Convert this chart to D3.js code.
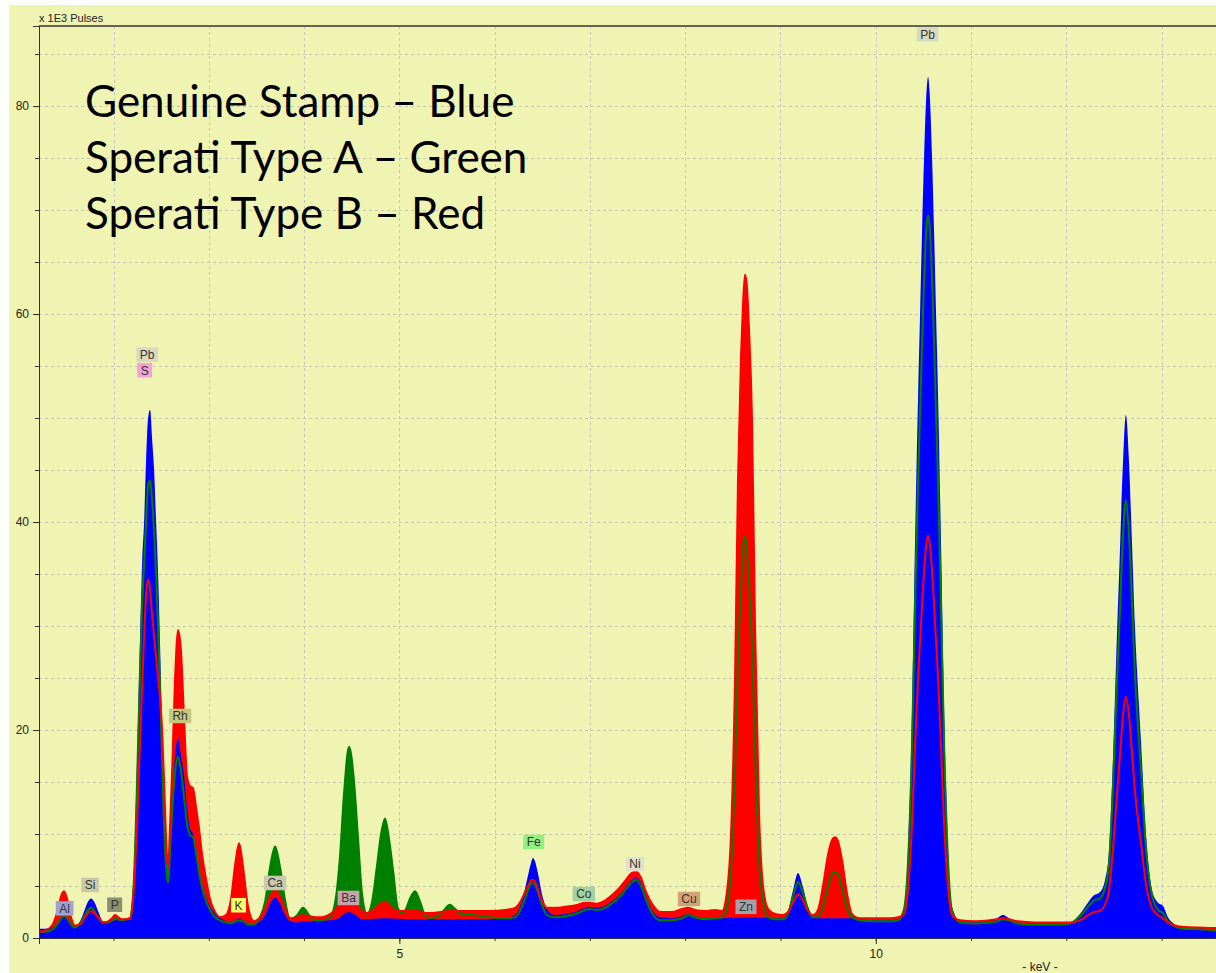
<!DOCTYPE html>
<html>
<head>
<meta charset="utf-8">
<script src="https://cdn.jsdelivr.net/npm/d3@7"></script>
<style>
  html, body { margin: 0; padding: 0; background: #fff; }
  svg { display: block; }
</style>
</head>
<body>
<svg id="chart" width="1216" height="973"></svg>
<script>
// spectra, [keV, counts x 1000]
const genuine = [[1.218,0.9],[1.281,0.9],[1.355,1.0],[1.418,1.4],[1.449,1.8],[1.481,2.0],[1.512,1.8],[1.554,1.3],[1.596,1.1],[1.649,1.6],[1.701,2.8],[1.733,3.5],[1.764,3.8],[1.796,3.5],[1.838,2.6],[1.890,1.6],[1.943,1.5],[1.985,1.6],[2.016,1.7],[2.090,1.7],[2.131,1.8],[2.174,1.9],[2.195,3.5],[2.216,7],[2.247,17],[2.279,29],[2.300,36],[2.321,40],[2.342,46],[2.363,50],[2.384,50.8],[2.405,48],[2.426,45],[2.447,40],[2.468,35],[2.489,28],[2.510,20],[2.531,12],[2.552,7.5],[2.573,5.3],[2.594,9],[2.615,13],[2.646,17.5],[2.678,19.2],[2.709,17.5],[2.741,15.5],[2.772,12.5],[2.804,10.5],[2.835,10],[2.867,8.5],[2.898,6.5],[2.930,5.0],[2.961,4.2],[3.014,3.0],[3.066,2.4],[3.118,2.0],[3.181,1.6],[3.234,1.5],[3.276,1.7],[3.318,1.9],[3.360,1.7],[3.412,1.4],[3.475,1.3],[3.538,1.6],[3.591,2.2],[3.643,3.3],[3.696,3.9],[3.748,3.3],[3.801,2.2],[3.853,1.6],[3.927,1.5],[3.990,1.6],[4.116,1.6],[4.273,1.7],[4.336,1.8],[4.378,2.0],[4.420,2.3],[4.472,2.5],[4.525,2.3],[4.567,2.0],[4.609,1.8],[4.850,1.9],[5.164,1.8],[5.951,1.8],[6.109,1.9],[6.214,2.2],[6.266,3.0],[6.308,4.3],[6.350,6.0],[6.381,7.2],[6.402,7.7],[6.423,7.4],[6.455,6.2],[6.497,4.2],[6.549,2.8],[6.633,2.2],[6.738,2.3],[6.875,2.6],[6.948,2.9],[7.001,3.0],[7.064,2.9],[7.158,3.1],[7.242,3.6],[7.316,4.2],[7.379,4.9],[7.431,5.5],[7.484,5.8],[7.536,5.3],[7.589,4.0],[7.652,2.7],[7.736,2.0],[7.862,1.9],[7.967,2.1],[8.030,2.3],[8.103,2.1],[8.208,1.9],[8.313,1.9],[8.628,2.0],[8.943,1.9],[9.027,1.9],[9.079,2.6],[9.132,4.6],[9.184,6.25],[9.236,4.9],[9.289,3.0],[9.341,2.1],[9.394,1.9],[9.751,1.9],[9.835,1.8],[9.993,1.7],[10.150,1.7],[10.234,1.8],[10.297,3.0],[10.339,8.5],[10.381,22],[10.412,38],[10.444,52],[10.465,60],[10.486,68],[10.507,75],[10.528,80.5],[10.549,82.8],[10.570,80.5],[10.591,75],[10.612,68],[10.633,60],[10.654,52],[10.685,38],[10.717,22],[10.759,8.5],[10.801,3.0],[10.884,1.6],[11.042,1.5],[11.199,1.6],[11.273,1.9],[11.335,2.2],[11.398,1.9],[11.493,1.5],[11.671,1.4],[11.881,1.4],[12.038,1.5],[12.143,2.3],[12.227,3.4],[12.290,4.1],[12.353,4.4],[12.405,5.5],[12.447,8.3],[12.489,17],[12.531,29],[12.562,37],[12.594,45.5],[12.625,50.3],[12.657,46],[12.689,38],[12.720,30],[12.752,24],[12.783,19],[12.836,10],[12.899,4.6],[12.962,3.4],[13.014,3.1],[13.067,2.0],[13.140,1.3],[13.245,1.0],[13.403,0.95],[13.571,0.8]];

const speratiA = [[1.218,0.6],[1.281,0.6],[1.355,0.8],[1.418,1.4],[1.449,1.9],[1.481,2.2],[1.512,1.9],[1.554,1.3],[1.596,1.0],[1.649,1.4],[1.701,2.2],[1.733,2.7],[1.764,2.9],[1.796,2.6],[1.838,2.0],[1.890,1.5],[1.943,1.5],[1.985,1.7],[2.016,1.9],[2.048,1.8],[2.090,1.7],[2.131,1.8],[2.174,1.9],[2.195,3.0],[2.216,6],[2.247,15],[2.279,26],[2.300,32],[2.321,36],[2.342,40],[2.363,43.5],[2.384,44],[2.405,42],[2.426,39],[2.447,35],[2.468,30],[2.489,24],[2.510,17],[2.531,10.5],[2.552,6.8],[2.573,5.3],[2.594,8.5],[2.615,12],[2.646,16],[2.678,17.4],[2.709,16],[2.741,13.5],[2.772,11],[2.804,9.9],[2.835,9.7],[2.867,8.2],[2.898,6.3],[2.930,4.8],[2.961,3.8],[3.014,2.7],[3.066,2.0],[3.118,1.7],[3.181,1.5],[3.234,1.4],[3.276,1.6],[3.318,1.7],[3.360,1.6],[3.412,1.3],[3.475,1.3],[3.538,2.0],[3.591,3.5],[3.643,6.8],[3.696,8.8],[3.748,6.8],[3.801,3.6],[3.853,1.8],[3.927,2.2],[3.990,2.9],[4.053,2.2],[4.116,1.7],[4.189,1.7],[4.273,2.0],[4.336,4],[4.378,8],[4.420,14],[4.472,18.4],[4.525,15],[4.567,9.5],[4.609,4.2],[4.661,2.3],[4.714,3.5],[4.766,7],[4.808,10],[4.850,11.5],[4.892,9.5],[4.934,6.5],[4.986,2.8],[5.028,2.4],[5.070,2.8],[5.112,3.8],[5.164,4.5],[5.217,3.5],[5.269,2.2],[5.332,1.9],[5.427,2.2],[5.479,2.8],[5.532,3.2],[5.584,2.8],[5.658,2.3],[5.794,2.2],[5.951,2.0],[6.109,1.9],[6.214,2.0],[6.266,2.6],[6.308,3.5],[6.350,4.6],[6.381,5.2],[6.402,5.3],[6.423,5.1],[6.455,4.4],[6.497,3.2],[6.549,2.2],[6.633,2.0],[6.738,2.1],[6.875,2.4],[6.948,2.7],[7.001,2.8],[7.064,2.7],[7.158,2.9],[7.242,3.4],[7.316,4.0],[7.379,4.7],[7.431,5.3],[7.484,5.6],[7.536,5.0],[7.589,3.7],[7.652,2.4],[7.736,1.7],[7.862,1.7],[7.967,1.9],[8.030,2.2],[8.103,2.0],[8.208,1.8],[8.313,1.9],[8.387,2.0],[8.439,3.0],[8.481,6.5],[8.523,16],[8.554,27],[8.586,33.5],[8.607,37.5],[8.628,38.6],[8.649,37],[8.670,34],[8.701,28],[8.733,18],[8.775,7.5],[8.817,3.5],[8.869,2.0],[8.943,1.8],[9.027,1.8],[9.079,2.3],[9.132,4.0],[9.184,5.4],[9.236,4.3],[9.289,2.8],[9.341,2.0],[9.394,2.0],[9.446,3.0],[9.499,5.0],[9.541,6.1],[9.572,6.4],[9.604,6.1],[9.646,4.8],[9.698,2.9],[9.751,2.0],[9.835,1.7],[9.993,1.6],[10.150,1.6],[10.234,1.7],[10.297,2.8],[10.339,7.4],[10.381,18.8],[10.412,32],[10.444,43.8],[10.465,50.5],[10.486,57.2],[10.507,63.2],[10.528,67.8],[10.549,69.5],[10.570,67.8],[10.591,63.2],[10.612,57.2],[10.633,50.5],[10.654,43.8],[10.685,32],[10.717,18.8],[10.759,7.4],[10.801,2.6],[10.884,1.5],[11.042,1.4],[11.199,1.5],[11.273,1.6],[11.335,1.8],[11.398,1.7],[11.493,1.4],[11.671,1.3],[11.881,1.3],[12.038,1.4],[12.143,2.1],[12.227,3.0],[12.290,3.6],[12.353,3.8],[12.405,4.8],[12.447,7],[12.489,14.5],[12.531,24.6],[12.562,31.3],[12.594,38.5],[12.625,42.1],[12.657,38.9],[12.689,32.2],[12.720,25.4],[12.752,20.4],[12.783,16.2],[12.836,8.6],[12.899,4.1],[12.962,2.7],[13.014,2.4],[13.067,1.6],[13.140,1.1],[13.245,0.9],[13.403,0.85],[13.571,0.75]];

const speratiB = [[1.218,0.6],[1.281,0.7],[1.355,1.2],[1.418,2.8],[1.449,4.0],[1.481,4.5],[1.512,3.8],[1.554,2.0],[1.596,1.2],[1.649,1.3],[1.701,2.0],[1.733,2.4],[1.764,2.6],[1.796,2.4],[1.838,2.0],[1.890,1.5],[1.943,1.6],[1.985,1.9],[2.016,2.2],[2.048,2.0],[2.090,1.8],[2.131,1.8],[2.174,1.9],[2.195,2.8],[2.216,5],[2.247,11],[2.279,19],[2.300,24],[2.321,29],[2.342,33],[2.363,34.5],[2.384,33.5],[2.405,31],[2.426,29],[2.447,27],[2.468,25],[2.489,23],[2.510,20],[2.531,15],[2.552,9.5],[2.573,6.8],[2.594,11],[2.615,16],[2.646,25],[2.678,29.6],[2.709,27.5],[2.741,21],[2.772,15.5],[2.804,14.6],[2.835,14.4],[2.867,12.5],[2.898,10.5],[2.930,8],[2.961,6.2],[3.014,3.7],[3.066,2.5],[3.118,2.0],[3.181,2.2],[3.234,3.8],[3.276,7],[3.318,9.1],[3.360,6.8],[3.412,3.0],[3.475,1.6],[3.538,2.0],[3.591,2.8],[3.643,4.0],[3.696,4.6],[3.748,4.0],[3.801,2.8],[3.853,1.9],[3.927,2.0],[3.990,2.2],[4.053,2.1],[4.116,2.0],[4.189,2.0],[4.273,2.3],[4.336,2.8],[4.378,3.4],[4.420,3.9],[4.472,4.2],[4.525,3.8],[4.567,3.0],[4.609,2.6],[4.661,2.4],[4.714,2.6],[4.766,3.0],[4.808,3.3],[4.850,3.5],[4.892,3.2],[4.934,2.8],[4.986,2.6],[5.070,2.6],[5.164,2.7],[5.269,2.4],[5.332,2.4],[5.532,2.6],[5.794,2.6],[5.951,2.6],[6.109,2.7],[6.214,2.9],[6.266,3.4],[6.308,4.2],[6.350,5.0],[6.381,5.5],[6.402,5.6],[6.423,5.4],[6.455,4.7],[6.497,3.6],[6.549,2.9],[6.633,2.9],[6.738,3.0],[6.875,3.2],[6.948,3.4],[7.001,3.4],[7.064,3.3],[7.158,3.6],[7.242,4.2],[7.316,4.9],[7.379,5.6],[7.431,6.2],[7.484,6.4],[7.536,5.8],[7.589,4.4],[7.652,3.3],[7.736,2.5],[7.862,2.5],[7.967,2.8],[8.030,2.9],[8.103,2.7],[8.208,2.6],[8.313,2.7],[8.387,2.6],[8.439,4.5],[8.481,10],[8.523,25],[8.554,44],[8.586,56],[8.607,61],[8.628,63.8],[8.649,62.5],[8.670,58.5],[8.701,50],[8.733,30],[8.775,12],[8.817,5],[8.869,2.8],[8.943,2.3],[9.027,2.2],[9.079,2.5],[9.132,3.4],[9.184,4.2],[9.236,3.6],[9.289,2.6],[9.341,2.2],[9.394,2.7],[9.446,5.0],[9.499,8.0],[9.541,9.4],[9.572,9.7],[9.604,9.3],[9.646,7.5],[9.698,4.3],[9.751,2.3],[9.835,1.9],[9.993,1.9],[10.150,1.9],[10.234,2.0],[10.297,2.3],[10.339,4.8],[10.381,11],[10.412,18.5],[10.444,25],[10.465,28.5],[10.486,32],[10.507,35.3],[10.528,37.7],[10.549,38.7],[10.570,37.7],[10.591,35.3],[10.612,32],[10.633,28.5],[10.654,25],[10.685,18.5],[10.717,11],[10.759,4.8],[10.801,2.2],[10.884,1.7],[11.042,1.6],[11.199,1.7],[11.273,1.8],[11.335,1.9],[11.398,1.8],[11.493,1.6],[11.671,1.5],[11.881,1.5],[12.038,1.5],[12.143,1.7],[12.227,2.2],[12.290,2.5],[12.353,2.6],[12.405,3.2],[12.447,4.5],[12.489,8.5],[12.531,13.7],[12.562,17.4],[12.594,21.3],[12.625,23.2],[12.657,21.5],[12.689,17.8],[12.720,14.2],[12.752,11.4],[12.783,9.2],[12.836,5.2],[12.899,2.9],[12.962,2.2],[13.014,1.9],[13.067,1.5],[13.140,1.2],[13.245,1.05],[13.403,1.0],[13.571,0.95]];

// element markers: name, keV, height (x1000), box colour
const elements = [
  ["Al", 1.487, 2.85, "#a0a0d4"],
  ["Si", 1.754, 5.1, "#c9c9a6"],
  ["P", 2.012, 3.2, "#8e8e6e"],
  ["Pb", 2.353, 56.1, "#d9d9c2"],
  ["S", 2.327, 54.6, "#f2a2d8"],
  ["Rh", 2.699, 21.35, "#c8c87c"],
  ["K", 3.312, 3.15, "#ffff66"],
  ["Ca", 3.696, 5.29, "#c9c9b2"],
  ["Ba", 4.466, 3.85, "#c8a2aa"],
  ["Fe", 6.410, 9.23, "#94f07e"],
  ["Co", 6.936, 4.23, "#a2d2a2"],
  ["Ni", 7.473, 7.1, "#e0e0cc"],
  ["Cu", 8.040, 3.75, "#d2a274"],
  ["Zn", 8.638, 3.0, "#a2a2aa"],
  ["Pb", 10.544, 86.9, "#d9d9c2"]
];

const legendLines = ["Genuine Stamp \u2013 Blue", "Sperati Type A \u2013 Green", "Sperati Type B \u2013 Red"];
const yMinor = d3.range(0, 90, 5);
const yMajor = [0, 20, 40, 60, 80];
const xMinor = d3.range(2, 14, 1);
const xMajor = [5, 10];

const svg = d3.select("#chart");
const W = +svg.attr("width"), H = +svg.attr("height");
const margin = { top: 26, right: 0, bottom: 35, left: 39 };
const width = W - margin.left - margin.right;
const height = H - margin.top - margin.bottom;

svg.append("rect")
  .attr("x", 9).attr("y", 5)
  .attr("width", W - 9).attr("height", H - 5)
  .attr("fill", "#f0f4b2");

const g = svg.append("g")
  .attr("transform", `translate(${margin.left},${margin.top})`);

const x = d3.scaleLinear().domain([1.218, 13.571]).range([0, width]);
const y = d3.scaleLinear().domain([0, 87.7]).range([height, 0]);

g.append("clipPath").attr("id", "clip-plot")
  .append("rect").attr("width", width).attr("height", height);

// grid
g.append("g").selectAll("line").data(yMinor.filter(d => d > 0)).join("line")
  .attr("x1", 0).attr("x2", width)
  .attr("y1", d => Math.round(y(d)) + 0.5).attr("y2", d => Math.round(y(d)) + 0.5)
  .attr("stroke", "#c6c6bc").attr("stroke-dasharray", "3 3");
g.append("g").selectAll("line").data(xMinor).join("line")
  .attr("y1", 0).attr("y2", height)
  .attr("x1", d => Math.round(x(d)) + 0.5).attr("x2", d => Math.round(x(d)) + 0.5)
  .attr("stroke", "#c6c6bc").attr("stroke-dasharray", "3 3");

const area = data => d3.area()
  .x(d => x(d[0])).y0(y(0)).y1(d => y(d[1]))
  .curve(d3.curveMonotoneX)(data);
const line = data => d3.line()
  .x(d => x(d[0])).y(d => y(d[1]))
  .curve(d3.curveMonotoneX)(data);

const plot = g.append("g").attr("clip-path", "url(#clip-plot)");
plot.append("path").attr("d", area(speratiA)).attr("fill", "#008000");
plot.append("path").attr("d", area(speratiB)).attr("fill", "#ff0000");
plot.append("path").attr("d", area(genuine)).attr("fill", "#0000ff");
plot.append("path").attr("d", line(speratiA)).attr("fill", "none")
  .attr("stroke", "#008000").attr("stroke-width", 2);
plot.append("path").attr("d", line(speratiB)).attr("fill", "none")
  .attr("stroke", "#ff0000").attr("stroke-width", 2);

// axes
const yAxisMinor = g.append("g")
  .call(d3.axisLeft(y).tickValues(yMinor).tickSize(4).tickFormat(""));
const yAxis = g.append("g")
  .call(d3.axisLeft(y).tickValues(yMajor).tickSize(6).tickPadding(4));
const xAxisMinor = g.append("g").attr("transform", `translate(0,${height})`)
  .call(d3.axisBottom(x).tickValues(xMinor).tickSize(3).tickFormat(""));
const xAxis = g.append("g").attr("transform", `translate(0,${height})`)
  .call(d3.axisBottom(x).tickValues(xMajor).tickSize(6).tickPadding(5));

[yAxisMinor, yAxis, xAxisMinor, xAxis].forEach(a => {
  a.selectAll(".domain").attr("stroke", "#333");
  a.selectAll(".tick line").attr("stroke", "#333");
  a.selectAll("text")
    .attr("fill", "#222")
    .style("font-family", "'Liberation Sans', Arial, sans-serif")
    .style("font-size", "12px");
});

g.append("line")
  .attr("x1", 0).attr("x2", width).attr("y1", 0).attr("y2", 0)
  .attr("stroke", "#333").attr("stroke-width", 1.5);

svg.append("text")
  .attr("x", 39).attr("y", 22)
  .attr("fill", "#222")
  .style("font-family", "'Liberation Sans', Arial, sans-serif")
  .style("font-size", "11px")
  .text("x 1E3 Pulses");

svg.append("text")
  .attr("x", 1040).attr("y", 971)
  .attr("text-anchor", "middle")
  .attr("fill", "#222")
  .style("font-family", "'Liberation Sans', Arial, sans-serif")
  .style("font-size", "12px")
  .text("- keV -");

// element markers
const marks = g.append("g").selectAll("g").data(elements).join("g")
  .attr("transform", d => `translate(${x(d[1])},${y(d[2])})`);
marks.append("text")
  .attr("text-anchor", "middle")
  .attr("dy", "0.36em")
  .attr("fill", "#333")
  .style("font-family", "'Liberation Sans', Arial, sans-serif")
  .style("font-size", "12px")
  .text(d => d[0]);
marks.each(function (d) {
  const t = d3.select(this).select("text");
  const w = t.node().getComputedTextLength() + 7;
  d3.select(this).insert("rect", "text")
    .attr("x", -w / 2).attr("y", -7.25)
    .attr("width", w).attr("height", 14.5)
    .attr("fill", d[3]);
});

// legend text
svg.append("g").selectAll("text").data(legendLines).join("text")
  .attr("x", 85)
  .attr("y", (d, i) => 117 + i * 56)
  .attr("fill", "#000")
  .style("font-family", "Lato, sans-serif")
  .style("font-size", "44px")
  .text(d => d);
</script>
</body>
</html>
